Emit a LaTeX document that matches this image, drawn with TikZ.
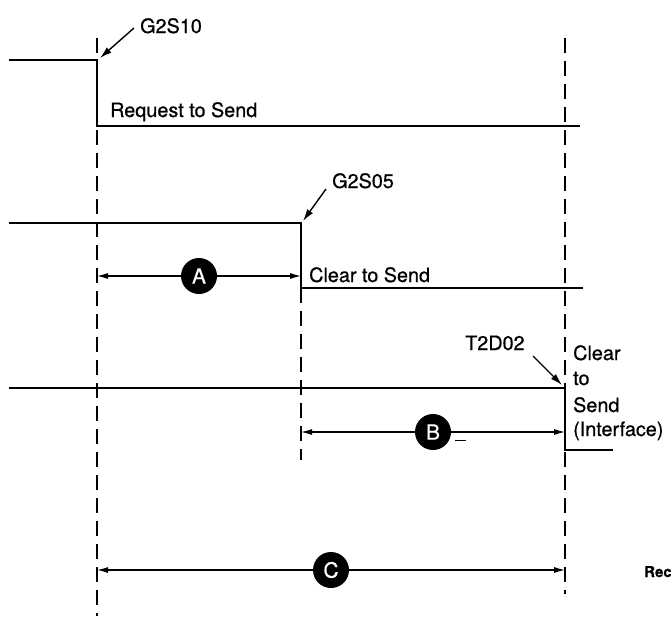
\documentclass[tikz,border=0pt]{standalone}
\usepackage{fontspec}
\setmainfont{TeX Gyre Heros}[FakeBold=0.6]
\usetikzlibrary{arrows.meta}
\tikzset{
  sig/.style={line width=1.9pt},
  guide/.style={line width=1.5pt, dash pattern=on 15pt off 8pt},
  lbl/.style={inner sep=0pt, anchor=base west, font=\fontsize{19.8}{22}\selectfont},
  ptr/.style={line width=1.4pt, -{Latex[length=12pt,width=7pt]}},
  dimarrow/.style={line width=1.2pt, -{Latex[length=11pt,width=6pt]}},
  circmark/.style={circle, fill=black, inner sep=0pt, minimum size=36pt, text=white,
    font=\fontsize{21}{22}\selectfont},
}
\begin{document}
\begin{tikzpicture}[x=1pt,y=-1pt]
\useasboundingbox (0,0) rectangle (671,616);
% guide lines
\draw[guide] (97,38) -- (97,616);
\draw[guide] (565,38) -- (565,594);
\draw[guide] (301,288) -- (301,460);
% signals
\draw[sig] (9,60) -- (97,60) -- (97,126) -- (580,126);
\draw[sig] (9,223) -- (301,223) -- (301,288) -- (583,288);
\draw[sig] (9,388) -- (565,388) -- (565,450) -- (613,450);
% corner coordinates
\coordinate (c1) at (100,58);
\coordinate (c2) at (303,221);
\coordinate (c3) at (562,385);
% labels
\node[lbl] (g2s10) at (140,33) {G2S10};
\node[lbl] (rts) at (110,117) {Request to Send};
\node[lbl] (g2s05) at (332,188) {G2S05};
\node[lbl] (cts) at (309,282) {Clear to Send};
\node[lbl] (t2d02) at (465,350) {T2D02};
\node[lbl] (ctsi1) at (573,360) {Clear};
\node[lbl] (ctsi2) at (573,385) {to};
\node[lbl] (ctsi3) at (573,412) {Send};
\node[lbl] (ctsi4) at (573,436) {(Interface)};
\node[inner sep=0pt, anchor=base west, font=\fontsize{15}{18}\selectfont\bfseries] (rec) at (644,577) {Rec};
% pointers
\draw[ptr] (134,28) -- (c1);
\draw[ptr] (326,189) -- (c2);
\draw[ptr] (533,356) -- (c3);
% dimension arrows
\coordinate (aL) at (97,276);
\coordinate (aR) at (301,276);
\coordinate (bL) at (301,432);
\coordinate (bR) at (565,432);
\coordinate (cL) at (97,570);
\coordinate (cR) at (565,570);
\node[circmark] (A) at (199,276) {A};
\node[circmark] (B) at (433,432) {B};
\node[circmark] (C) at (331,570) {C};
\draw[dimarrow] (A) -- (aL);
\draw[dimarrow] (A) -- (aR);
\draw[dimarrow] (B) -- (bL);
\draw[dimarrow] (B) -- (bR);
\draw[dimarrow] (C) -- (cL);
\draw[dimarrow] (C) -- (cR);
\draw[line width=1pt] (455,440) -- (466,440);
\end{tikzpicture}
\end{document}
